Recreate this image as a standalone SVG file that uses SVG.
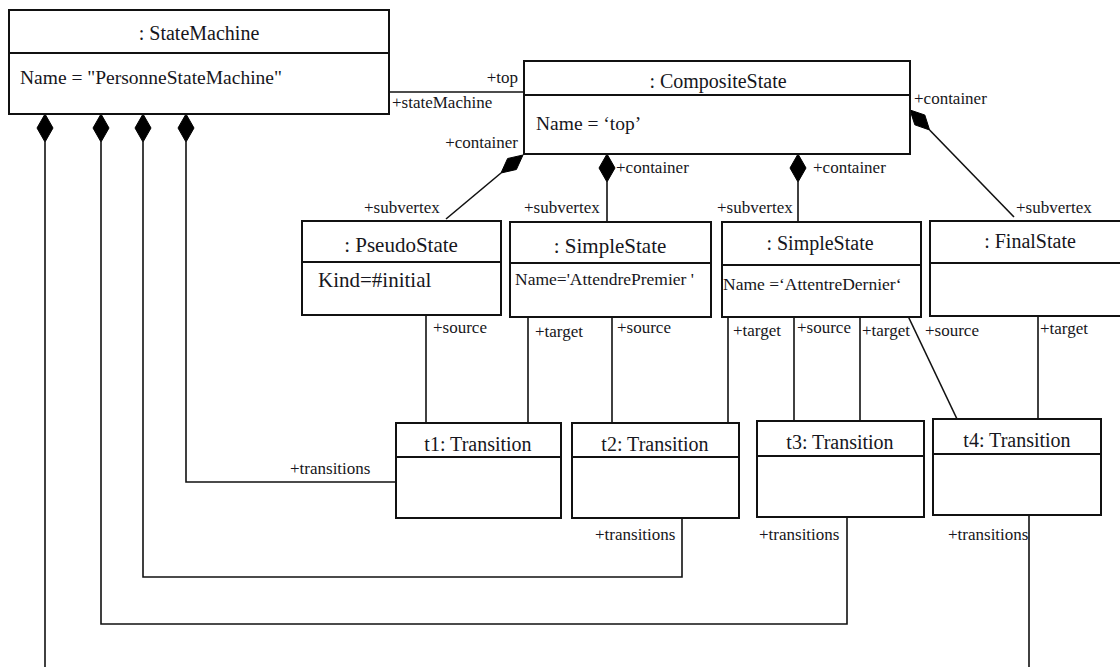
<svg xmlns="http://www.w3.org/2000/svg" width="1120" height="667" viewBox="0 0 1120 667">
<style>
.box{fill:#fff;stroke:#111;stroke-width:2}
.ln{fill:none;stroke:#111;stroke-width:1.6}
.dia{fill:#000;stroke:#000;stroke-width:1}
text{font-family:"Liberation Serif","Times New Roman",serif;fill:#161620}
.lbl{font-size:17px}
.lblr{font-size:17px;text-anchor:end}
.ttl{font-size:20px;text-anchor:middle}
.st{font-size:21px;text-anchor:middle}
.stl{font-size:21px}
.att{font-size:19.5px}
.att2{font-size:17.5px}
</style>
<rect width="1120" height="667" fill="#fff"/>
<g id="connectors">
  <line class="ln" x1="389" y1="92" x2="523" y2="92"/>
  <text class="lblr" x="518" y="83">+top</text>
  <text class="lbl" x="392" y="108">+stateMachine</text>
  <path class="dia" d="M45,114 L53,128 L45,142 L37,128 Z"/>
  <path class="dia" d="M101,114 L109,128 L101,142 L93,128 Z"/>
  <path class="dia" d="M143,114 L151,128 L143,142 L135,128 Z"/>
  <path class="dia" d="M186,114 L194,128 L186,142 L178,128 Z"/>
  <polyline class="ln" points="45,142 45,670"/>
  <polyline class="ln" points="101,142 101,624 847,624 847,517"/>
  <polyline class="ln" points="143,142 143,577 682,577 682,518"/>
  <polyline class="ln" points="186,142 186,482 396,482"/>
  <text class="lbl" x="290" y="474">+transitions</text>
  <text class="lbl" x="595" y="540">+transitions</text>
  <text class="lbl" x="759" y="540">+transitions</text>
  <text class="lbl" x="948" y="540">+transitions</text>
  <polyline class="ln" points="1029,515 1029,670"/>
  <path class="dia" d="M523,155 L516.4,169.5 L501,173 L507.6,158.5 Z"/>
  <line class="ln" x1="501" y1="173" x2="446" y2="219"/>
  <text class="lblr" x="518" y="148">+container</text>
  <text class="lbl" x="364" y="213">+subvertex</text>
  <path class="dia" d="M607,154 L615,168 L607,182 L599,168 Z"/>
  <line class="ln" x1="607" y1="182" x2="607" y2="222"/>
  <text class="lbl" x="616" y="173">+container</text>
  <text class="lbl" x="524" y="213">+subvertex</text>
  <path class="dia" d="M798,154 L806,168 L798,182 L790,168 Z"/>
  <line class="ln" x1="798" y1="182" x2="798" y2="222"/>
  <text class="lbl" x="813" y="173">+container</text>
  <text class="lbl" x="717" y="213">+subvertex</text>
  <path class="dia" d="M910,110 L924.8,115 L929.6,130 L914.8,124.8 Z"/>
  <line class="ln" x1="929.6" y1="130" x2="1014" y2="217"/>
  <text class="lbl" x="914" y="104">+container</text>
  <text class="lbl" x="1016" y="213">+subvertex</text>
  <line class="ln" x1="426" y1="315" x2="426" y2="423"/>
  <text class="lbl" x="433" y="333">+source</text>
  <line class="ln" x1="528" y1="317" x2="528" y2="423"/>
  <text class="lbl" x="535" y="337">+target</text>
  <line class="ln" x1="612" y1="317" x2="612" y2="423"/>
  <text class="lbl" x="617" y="333">+source</text>
  <line class="ln" x1="728" y1="317" x2="728" y2="423"/>
  <text class="lbl" x="733" y="336">+target</text>
  <line class="ln" x1="794" y1="317" x2="794" y2="421"/>
  <text class="lbl" x="797" y="333">+source</text>
  <line class="ln" x1="860" y1="317" x2="860" y2="421"/>
  <text class="lbl" x="862" y="336">+target</text>
  <line class="ln" x1="908" y1="316" x2="957" y2="419"/>
  <text class="lbl" x="925" y="336">+source</text>
  <line class="ln" x1="1038" y1="316" x2="1038" y2="419"/>
  <text class="lbl" x="1040" y="334">+target</text>
</g>
<g id="stateMachine">
  <rect class="box" x="9" y="10" width="380" height="104"/>
  <line class="box" x1="9" y1="53" x2="389" y2="53"/>
  <text class="ttl" x="199" y="40">: StateMachine</text>
  <text class="att" x="20" y="84">Name = "PersonneStateMachine"</text>
</g>
<g id="compositeState">
  <rect class="box" x="524" y="61" width="386" height="93"/>
  <line class="box" x1="524" y1="95" x2="910" y2="95"/>
  <text class="ttl" x="718" y="88">: CompositeState</text>
  <text class="att" x="536" y="130">Name = ‘top’</text>
</g>
<g id="pseudoState">
  <rect class="box" x="302" y="221" width="199" height="94"/>
  <line class="box" x1="302" y1="262" x2="501" y2="262"/>
  <text class="st" x="401" y="252">: PseudoState</text>
  <text class="stl" x="318" y="287">Kind=#initial</text>
</g>
<g id="simpleState1">
  <rect class="box" x="510" y="222" width="201" height="95"/>
  <line class="box" x1="510" y1="263" x2="711" y2="263"/>
  <text class="st" x="610" y="253">: SimpleState</text>
  <text class="att2" x="515" y="285">Name='AttendrePremier '</text>
</g>
<g id="simpleState2">
  <rect class="box" x="722" y="222" width="199" height="95"/>
  <line class="box" x1="722" y1="265" x2="921" y2="265"/>
  <text class="ttl" x="820" y="250">: SimpleState</text>
  <text class="att2" x="723" y="290">Name =‘AttentreDernier‘</text>
</g>
<g id="finalState">
  <rect class="box" x="930" y="221" width="196" height="95"/>
  <line class="box" x1="930" y1="263" x2="1126" y2="263"/>
  <text class="ttl" x="1030" y="248">: FinalState</text>
</g>
<g id="t1">
  <rect class="box" x="396" y="423" width="165" height="95"/>
  <line class="box" x1="396" y1="457" x2="561" y2="457"/>
  <text class="ttl" x="478" y="451">t1: Transition</text>
</g>
<g id="t2">
  <rect class="box" x="572" y="423" width="167" height="95"/>
  <line class="box" x1="572" y1="457" x2="739" y2="457"/>
  <text class="ttl" x="655" y="451">t2: Transition</text>
</g>
<g id="t3">
  <rect class="box" x="757" y="421" width="167" height="96"/>
  <line class="box" x1="757" y1="456" x2="924" y2="456"/>
  <text class="ttl" x="840" y="449">t3: Transition</text>
</g>
<g id="t4">
  <rect class="box" x="933" y="419" width="168" height="96"/>
  <line class="box" x1="933" y1="454" x2="1101" y2="454"/>
  <text class="ttl" x="1017" y="447">t4: Transition</text>
</g>
</svg>
